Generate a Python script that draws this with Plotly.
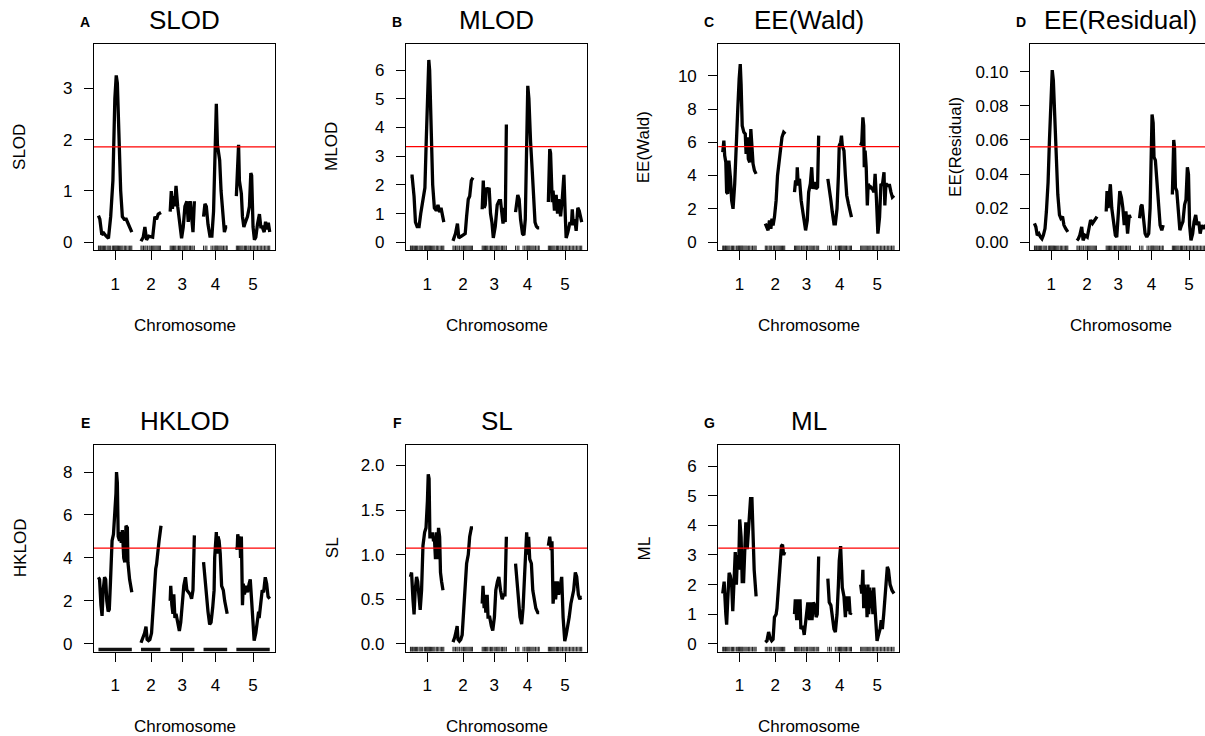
import plotly.graph_objects as go

W, H = 1205, 736
FONT = "Liberation Sans, Arial, Helvetica, sans-serif"

# ---------------- genetic map ----------------
CHR_LABELS = ["1", "2", "3", "4", "5"]
CHR_LEN = [120, 72, 87, 85, 120]
CHR_GAP = 33
MARKERS = [
    [0, 3, 7, 10, 14, 18, 22, 26, 31, 35, 39, 44, 50, 54, 57, 60, 63, 66, 69, 72, 76, 80, 84, 88, 93, 97, 102, 107, 112, 116, 120],
    [0, 4, 9, 14, 18, 23, 29, 33, 38, 42, 46, 50, 54, 58, 62, 66, 70],
    [0, 4, 8, 12, 16, 20, 25, 30, 34, 38, 43, 47, 52, 56, 60, 64, 69, 73, 78, 82, 87],
    [0, 6, 12, 27, 33, 38, 42, 45, 48, 51, 55, 59, 63, 67, 72, 77, 82, 85],
    [0, 4, 8, 12, 16, 20, 24, 29, 33, 37, 42, 46, 51, 56, 61, 66, 71, 76, 81, 86, 91, 96, 101, 106, 111, 116, 120],
]

# ---------------- profiles (position in cM within chromosome, statistic) ----------------
SLOD_x = [
    [0, 5, 12, 19, 28, 36, 44, 52, 59, 64, 68, 73, 80, 86, 93, 100, 108, 120],
    [0, 8, 14, 20, 28, 36, 42, 50, 56, 62, 72],
    [0, 4, 8, 12, 16, 21, 27, 33, 41, 47, 53, 60, 65, 72, 78, 82, 87],
    [0, 5, 10, 16, 23, 30, 36, 40, 43, 46, 50, 53, 58, 63, 70, 75, 80, 85],
    [0, 4, 8, 11, 14, 18, 22, 27, 33, 40, 47, 52, 55, 60, 65, 70, 76, 83, 88, 93, 100, 105, 110, 115, 120],
]
SLOD_y = [
    [0.52, 0.45, 0.15, 0.18, 0.12, 0.08, 0.5, 1.2, 2.8, 3.25, 3.1, 2.0, 1.0, 0.5, 0.45, 0.45, 0.35, 0.2],
    [0.02, 0.1, 0.3, 0.05, 0.12, 0.1, 0.1, 0.5, 0.45, 0.55, 0.58],
    [0.6, 1.0, 0.65, 0.9, 0.7, 1.1, 0.7, 0.4, 0.08, 0.3, 0.7, 0.8, 0.4, 0.8, 0.5, 0.2, 0.8],
    [0.5, 0.75, 0.7, 0.35, 0.12, 0.12, 0.6, 1.8, 2.5, 2.7, 1.9, 1.75, 1.6, 1.0, 0.5, 0.2, 0.3, 0.3],
    [0.9, 1.3, 1.9, 1.2, 1.05, 0.95, 0.5, 0.3, 0.4, 0.5, 0.7, 1.35, 1.3, 0.3, 0.05, 0.1, 0.35, 0.55, 0.3, 0.3, 0.2, 0.4, 0.25, 0.38, 0.2],
]
SLOD_thr = 1.86

MLOD_x = [
    [0, 6, 13, 18, 24, 31, 37, 42, 48, 52, 57, 63, 66, 69, 75, 80, 86, 93, 99, 105, 110, 115, 120],
    [0, 9, 16, 21, 28, 37, 44, 49, 55, 60, 66, 72],
    [0, 4, 7, 11, 15, 20, 25, 30, 35, 40, 47, 54, 61, 66, 71, 75, 79, 83, 87],
    [0, 5, 8, 13, 18, 25, 30, 35, 39, 42, 44, 48, 51, 54, 60, 65, 70, 75, 80, 85],
    [0, 3, 5, 8, 11, 14, 17, 22, 28, 33, 38, 44, 50, 56, 61, 64, 70, 78, 83, 86, 90, 95, 100, 106, 111, 116, 120],
]
MLOD_y = [
    [2.3, 2.3, 1.6, 0.7, 0.55, 0.55, 1.0, 1.3, 1.8, 1.9, 3.6, 6.0, 6.35, 6.0, 3.8, 2.0, 1.2, 1.1, 1.3, 1.05, 1.2, 0.9, 0.7],
    [0.05, 0.3, 0.65, 0.15, 0.2, 0.25, 0.3, 0.9, 1.5, 1.6, 2.15, 2.25],
    [1.15, 2.15, 1.2, 1.3, 1.9, 1.8, 1.9, 1.0, 0.7, 0.15, 0.55, 1.3, 1.45, 1.45, 1.0, 0.65, 1.2, 0.7, 4.1],
    [1.05, 1.4, 1.65, 1.5, 0.8, 0.3, 0.25, 0.8, 3.0, 4.8, 5.45, 5.0, 3.6, 3.5, 2.5, 1.4, 0.7, 0.55, 0.5, 0.5],
    [1.4, 2.5, 3.25, 3.1, 1.8, 1.4, 1.8, 1.1, 1.65, 1.0, 1.5, 0.9, 1.5, 2.35, 0.9, 0.15, 0.35, 0.7, 0.6, 1.15, 0.6, 0.8, 0.4, 1.2, 1.1, 0.8, 0.7],
]
MLOD_thr = 3.33

WALD_x = [
    [0, 4, 7, 11, 14, 18, 22, 25, 28, 32, 37, 43, 49, 54, 59, 63, 66, 70, 76, 81, 84, 89, 92, 97, 101, 105, 109, 114, 120],
    [0, 5, 10, 15, 20, 24, 28, 33, 39, 44, 49, 54, 60, 66, 72],
    [0, 4, 8, 10, 13, 18, 24, 30, 36, 40, 46, 51, 57, 62, 66, 71, 77, 83, 87],
    [0, 5, 11, 16, 22, 27, 33, 38, 41, 46, 49, 52, 58, 63, 68, 74, 80, 85],
    [0, 4, 8, 11, 13, 16, 20, 24, 27, 33, 37, 42, 48, 52, 57, 62, 68, 73, 78, 84, 87, 91, 98, 104, 109, 114, 120],
]
WALD_y = [
    [5.4, 6.1, 5.2, 4.8, 3.0, 2.9, 4.9, 4.5, 3.8, 2.5, 2.0, 3.5, 6.5, 8.0, 9.8, 10.7, 9.5, 7.0, 6.6, 6.5, 5.3, 6.3, 5.0, 4.8, 6.8, 5.5, 4.7, 4.3, 4.1],
    [1.1, 0.9, 0.7, 1.3, 0.8, 1.4, 1.0, 1.5, 2.5, 4.0, 4.8, 5.5, 6.3, 6.6, 6.5],
    [3.0, 3.7, 3.4, 4.5, 3.6, 3.8, 2.5, 1.8, 1.2, 0.7, 1.3, 3.0, 3.5, 4.5, 3.2, 3.6, 3.2, 3.3, 6.4],
    [3.8, 3.0, 2.5, 1.8, 1.1, 1.1, 2.0, 4.0, 5.8, 6.0, 6.4, 5.8, 5.5, 4.0, 2.8, 2.3, 1.9, 1.5],
    [5.8, 6.0, 7.5, 7.0, 4.5, 5.5, 4.5, 2.2, 3.5, 3.2, 3.3, 3.2, 3.0, 4.1, 2.5, 0.5, 1.5, 3.5, 3.4, 4.2, 2.2, 3.5, 3.4, 3.4, 3.0, 2.7, 2.8],
]
WALD_thr = 5.74

RESID_x = [
    [0, 5, 10, 16, 22, 27, 32, 38, 43, 49, 54, 59, 64, 68, 74, 79, 84, 90, 95, 101, 106, 112, 120],
    [0, 5, 10, 17, 22, 29, 37, 42, 49, 56, 63, 72],
    [0, 3, 7, 11, 15, 20, 27, 33, 38, 44, 49, 55, 60, 65, 71, 77, 83, 87],
    [0, 5, 9, 14, 20, 26, 33, 38, 42, 45, 49, 52, 57, 63, 69, 74, 80, 85],
    [0, 3, 5, 8, 11, 16, 22, 27, 33, 38, 44, 49, 54, 58, 62, 67, 73, 78, 84, 89, 95, 100, 106, 111, 120],
]
RESID_y = [
    [0.011, 0.009, 0.004, 0.005, 0.003, 0.002, 0.004, 0.008, 0.018, 0.035, 0.06, 0.085, 0.101, 0.095, 0.065, 0.045, 0.028, 0.016, 0.014, 0.015, 0.01, 0.008, 0.006],
    [0.001, 0.002, 0.004, 0.009, 0.001, 0.004, 0.003, 0.007, 0.013, 0.011, 0.013, 0.015],
    [0.018, 0.03, 0.02, 0.028, 0.034, 0.02, 0.012, 0.004, 0.003, 0.015, 0.03, 0.026, 0.02, 0.01, 0.018, 0.005, 0.016, 0.014],
    [0.014, 0.021, 0.022, 0.012, 0.005, 0.003, 0.005, 0.02, 0.05, 0.075, 0.07, 0.05, 0.048, 0.035, 0.02, 0.01, 0.007, 0.01],
    [0.028, 0.045, 0.06, 0.055, 0.032, 0.03, 0.015, 0.007, 0.01, 0.012, 0.022, 0.025, 0.044, 0.04, 0.01, 0.001, 0.005, 0.012, 0.016, 0.01, 0.012, 0.005, 0.01, 0.008, 0.01],
]
RESID_thr = 0.056

HKLOD_x = [
    [0, 4, 9, 13, 17, 22, 26, 30, 35, 39, 43, 49, 54, 59, 63, 65, 68, 71, 76, 80, 82, 86, 91, 95, 99, 104, 106, 112, 117, 120],
    [0, 8, 13, 18, 22, 27, 32, 38, 43, 48, 53, 56, 59, 65, 72],
    [0, 2, 6, 10, 13, 17, 21, 27, 33, 38, 44, 49, 55, 60, 66, 72, 77, 82, 87],
    [0, 5, 11, 16, 22, 27, 33, 38, 40, 43, 46, 49, 52, 56, 60, 65, 71, 76, 85],
    [0, 3, 5, 9, 13, 15, 18, 22, 25, 29, 35, 40, 46, 50, 55, 60, 64, 70, 75, 80, 82, 87, 93, 98, 104, 109, 114, 120],
]
HKLOD_y = [
    [3.1, 3.0, 1.8, 1.3, 2.5, 3.1, 3.0, 2.0, 1.5, 1.6, 2.8, 4.8, 5.1, 6.0, 7.0, 8.0, 7.5, 5.0, 4.8, 5.2, 4.7, 5.3, 4.0, 3.8, 5.5, 5.4, 3.8, 3.0, 2.5, 2.4],
    [0.05, 0.3, 0.5, 0.8, 0.2, 0.15, 0.2, 0.5, 1.7, 3.0, 3.5, 3.7, 4.2, 4.8, 5.5],
    [2.0, 2.7, 1.8, 1.4, 2.3, 1.2, 1.4, 1.0, 0.6, 1.0, 1.8, 2.7, 3.1, 2.5, 2.4, 2.3, 2.1, 2.5, 5.05],
    [3.8, 3.0, 2.5, 1.5, 0.9, 1.0, 1.7, 2.5, 4.0, 5.0, 5.2, 4.2, 5.0, 4.8, 4.2, 2.7, 2.5, 2.0, 1.4],
    [4.5, 4.4, 5.1, 4.8, 5.0, 4.0, 5.0, 1.8, 2.8, 2.3, 2.7, 2.4, 2.8, 3.0, 2.0, 1.0, 0.15, 0.5, 1.0, 1.5, 1.2, 2.0, 2.5, 2.4, 3.1, 2.8, 2.2, 2.1],
]
HKLOD_thr = 4.46

SL_x = [
    [0, 4, 9, 13, 17, 22, 26, 30, 35, 40, 45, 51, 56, 61, 64, 67, 70, 76, 80, 83, 86, 90, 94, 97, 101, 105, 108, 112, 117],
    [0, 6, 12, 15, 18, 23, 28, 33, 39, 44, 49, 55, 60, 66, 72],
    [0, 3, 7, 10, 13, 18, 21, 27, 33, 38, 44, 49, 55, 60, 66, 72, 77, 82, 87],
    [0, 5, 11, 16, 22, 27, 33, 37, 40, 44, 47, 51, 57, 62, 68, 73, 80, 85],
    [0, 5, 10, 13, 17, 23, 26, 32, 37, 42, 48, 53, 59, 64, 70, 75, 81, 86, 91, 97, 102, 108, 113, 117, 120],
]
SL_y = [
    [0.75, 0.8, 0.5, 0.33, 0.6, 0.75, 0.7, 0.5, 0.38, 0.6, 1.1, 1.25, 1.3, 1.6, 1.9, 1.85, 1.2, 1.2, 1.25, 1.15, 1.2, 0.95, 1.25, 0.95, 1.3, 1.2, 0.8, 0.7, 0.6],
    [0.02, 0.07, 0.15, 0.2, 0.05, 0.03, 0.05, 0.1, 0.4, 0.7, 0.9, 1.0, 1.2, 1.3, 1.3],
    [0.45, 0.65, 0.4, 0.55, 0.35, 0.55, 0.3, 0.3, 0.2, 0.15, 0.3, 0.6, 0.7, 0.75, 0.6, 0.5, 0.55, 0.55, 1.2],
    [0.9, 0.7, 0.5, 0.3, 0.22, 0.4, 0.8, 1.2, 1.25, 1.0, 1.2, 0.95, 0.9, 0.6, 0.5, 0.4, 0.35, 0.35],
    [1.1, 1.2, 1.05, 1.15, 0.45, 0.7, 0.5, 0.7, 0.55, 0.65, 0.75, 0.3, 0.03, 0.1, 0.2, 0.3, 0.45, 0.55, 0.6, 0.8, 0.75, 0.55, 0.5, 0.52, 0.52],
]
SL_thr = 1.073

ML_x = [
    [0, 5, 11, 14, 18, 23, 27, 32, 36, 40, 45, 49, 53, 57, 61, 66, 70, 75, 79, 83, 88, 92, 96, 100, 105, 109, 113, 120],
    [0, 6, 12, 17, 23, 28, 33, 39, 42, 47, 53, 58, 62, 66, 70],
    [0, 3, 8, 11, 14, 20, 23, 30, 35, 42, 48, 54, 58, 63, 68, 73, 78, 82, 84, 87],
    [0, 5, 11, 16, 22, 27, 33, 38, 41, 46, 49, 52, 58, 63, 68, 72, 76, 80, 85],
    [0, 4, 8, 11, 13, 16, 20, 23, 26, 29, 33, 36, 39, 44, 47, 51, 54, 59, 64, 70, 74, 78, 83, 87, 91, 96, 100, 106, 113, 120],
]
ML_y = [
    [1.7, 2.1, 1.0, 0.65, 1.5, 2.4, 2.3, 2.0, 1.1, 1.8, 3.1, 2.0, 3.0, 2.5, 4.2, 3.6, 2.1, 2.1, 3.3, 4.1, 3.2, 3.8, 4.5, 4.9, 4.9, 3.2, 2.5, 1.6],
    [0.05, 0.1, 0.4, 0.2, 0.1, 0.15, 0.9, 1.0, 1.2, 2.0, 2.8, 3.3, 3.35, 3.0, 3.1],
    [1.0, 1.5, 0.8, 1.5, 0.8, 1.5, 0.5, 0.6, 0.3, 0.8, 1.4, 0.8, 1.4, 0.8, 1.4, 1.3, 0.9, 1.0, 2.0, 2.95],
    [2.2, 1.4, 1.3, 0.9, 0.5, 0.4, 1.0, 2.0, 2.8, 3.3, 2.1, 1.9, 1.6, 0.9, 1.6, 1.1, 1.6, 1.0, 1.05],
    [2.0, 1.7, 2.5, 1.2, 2.0, 1.3, 1.9, 0.9, 2.0, 1.0, 1.9, 1.2, 1.8, 1.0, 1.9, 1.3, 0.8, 0.1, 0.3, 0.5, 0.8, 0.5, 1.0, 1.5, 2.0, 2.6, 2.5, 2.0, 1.8, 1.7],
]
ML_thr = 3.23

# ---------------- layout geometry (screen pixels) ----------------
COL_LEFT = [94, 406, 718.3, 1030]
BOX_W = 181
ROW_TOP = [43.7, 446]
BOX_H = 207.3
X_RANGE = [-16, 635]

# key, title, ylabel, xs, ys, threshold, col, row, yrange, tickvals, tickformat, dense rug
PANELS = [
    ("A", "SLOD", "SLOD", SLOD_x, SLOD_y, SLOD_thr, 0, 0, [-0.155, 3.87], [0, 1, 2, 3], "d", False),
    ("B", "MLOD", "MLOD", MLOD_x, MLOD_y, MLOD_thr, 1, 0, [-0.28, 6.92], [0, 1, 2, 3, 4, 5, 6], "d", False),
    ("C", "EE(Wald)", "EE(Wald)", WALD_x, WALD_y, WALD_thr, 2, 0, [-0.5, 11.94], [0, 2, 4, 6, 8, 10], "d", False),
    ("D", "EE(Residual)", "EE(Residual)", RESID_x, RESID_y, RESID_thr, 3, 0, [-0.0048, 0.1166], [0, 0.02, 0.04, 0.06, 0.08, 0.10], ".2f", False),
    ("E", "HKLOD", "HKLOD", HKLOD_x, HKLOD_y, HKLOD_thr, 0, 1, [-0.36, 9.27], [0, 2, 4, 6, 8], "d", True),
    ("F", "SL", "SL", SL_x, SL_y, SL_thr, 1, 1, [-0.086, 2.231], [0, 0.5, 1.0, 1.5, 2.0], ".1f", False),
    ("G", "ML", "ML", ML_x, ML_y, ML_thr, 2, 1, [-0.26, 6.72], [0, 1, 2, 3, 4, 5, 6], "d", False),
]

offsets = []
acc = 0
for L in CHR_LEN:
    offsets.append(acc)
    acc += L + CHR_GAP
mids = [o + L / 2 for o, L in zip(offsets, CHR_LEN)]


def fx(p):
    return p / W


def fy(p):
    return 1 - p / H


fig = go.Figure()
annotations = []
shapes = []

for i, (key, title, ylab, xs, ys, thr, col, row, yr, tv, tf, dense) in enumerate(PANELS):
    n = i + 1
    xa = "x" if n == 1 else f"x{n}"
    ya = "y" if n == 1 else f"y{n}"
    left = COL_LEFT[col]
    right = left + BOX_W
    top = ROW_TOP[row]
    bottom = top + BOX_H
    xr = list(X_RANGE)
    dom_right = right
    if right > W:
        dom_right = W
        xr[1] = X_RANGE[0] + (X_RANGE[1] - X_RANGE[0]) * (W - left) / BOX_W

    # profile, broken between chromosomes
    px, py = [], []
    for c in range(5):
        px += [offsets[c] + v for v in xs[c]] + [None]
        py += list(ys[c]) + [None]
    fig.add_trace(go.Scatter(x=px, y=py, mode="lines", xaxis=xa, yaxis=ya,
                             line=dict(color="black", width=3.3), showlegend=False,
                             hoverinfo="skip"))

    # rug of marker positions
    ry = yr[0] + (yr[1] - yr[0]) * (1.9 / BOX_H)
    if dense:
        rx, rys = [], []
        for c in range(5):
            rx += [offsets[c] + MARKERS[c][0], offsets[c] + MARKERS[c][-1], None]
            rys += [ry, ry, None]
        fig.add_trace(go.Scatter(x=rx, y=rys, mode="lines", xaxis=xa, yaxis=ya,
                                 line=dict(color="#111", width=3.6), showlegend=False,
                                 hoverinfo="skip"))
    else:
        rx = [offsets[c] + m for c in range(5) for m in MARKERS[c]]
        fig.add_trace(go.Scatter(x=rx, y=[ry] * len(rx), mode="markers", xaxis=xa, yaxis=ya,
                                 marker=dict(symbol="line-ns", size=4,
                                             line=dict(color="#222", width=1)),
                                 showlegend=False, hoverinfo="skip"))

    # threshold line
    shapes.append(dict(type="line", xref=f"{xa} domain", yref=ya, x0=0, x1=1, y0=thr, y1=thr,
                       line=dict(color="#ff0000", width=1.2), layer="above"))

    axis_common = dict(showgrid=False, zeroline=False, showline=True, linecolor="black",
                       linewidth=1.2, ticks="outside", ticklen=9, tickwidth=1.1,
                       tickcolor="black", tickfont=dict(family=FONT, size=17, color="black"))
    fig.layout[("xaxis" if n == 1 else f"xaxis{n}")] = dict(
        domain=[fx(left), fx(dom_right)], anchor=ya, range=xr, mirror=True,
        tickmode="array", tickvals=mids, ticktext=CHR_LABELS, ticklabelstandoff=9,
        **axis_common)
    fig.layout[("yaxis" if n == 1 else f"yaxis{n}")] = dict(
        domain=[fy(bottom), fy(top)], anchor=xa, range=yr, mirror=(right <= W),
        tickmode="array", tickvals=tv, tickformat=tf, ticklabelstandoff=8,
        **axis_common)

    cx = (left + right) / 2
    title_y = top - 23.5
    annotations.append(dict(text=title, x=fx(cx), y=fy(title_y), xref="paper", yref="paper",
                            xanchor="center", yanchor="middle", showarrow=False,
                            font=dict(family=FONT, size=26, color="black")))
    annotations.append(dict(text=f"<b>{key}</b>", x=fx(left - 9), y=fy(top - 22), xref="paper",
                            yref="paper", xanchor="center", yanchor="middle", showarrow=False,
                            font=dict(family=FONT, size=14, color="black")))
    annotations.append(dict(text=ylab, x=fx(left - 74), y=fy((top + bottom) / 2), xref="paper",
                            yref="paper", xanchor="center", yanchor="middle", textangle=-90,
                            showarrow=False, font=dict(family=FONT, size=17, color="black")))
    annotations.append(dict(text="Chromosome", x=fx(cx), y=fy(bottom + 75), xref="paper",
                            yref="paper", xanchor="center", yanchor="middle", showarrow=False,
                            font=dict(family=FONT, size=17, color="black")))

fig.update_layout(width=W, height=H, margin=dict(l=0, r=0, t=0, b=0),
                  paper_bgcolor="white", plot_bgcolor="white",
                  annotations=annotations, shapes=shapes, showlegend=False,
                  font=dict(family=FONT, color="black"))

fig.write_html("out.html",
               config={"displayModeBar": False},
               post_script="document.body.style.margin='0px';"
                           "document.body.style.overflow='hidden';"
                           "document.documentElement.style.overflow='hidden';")
